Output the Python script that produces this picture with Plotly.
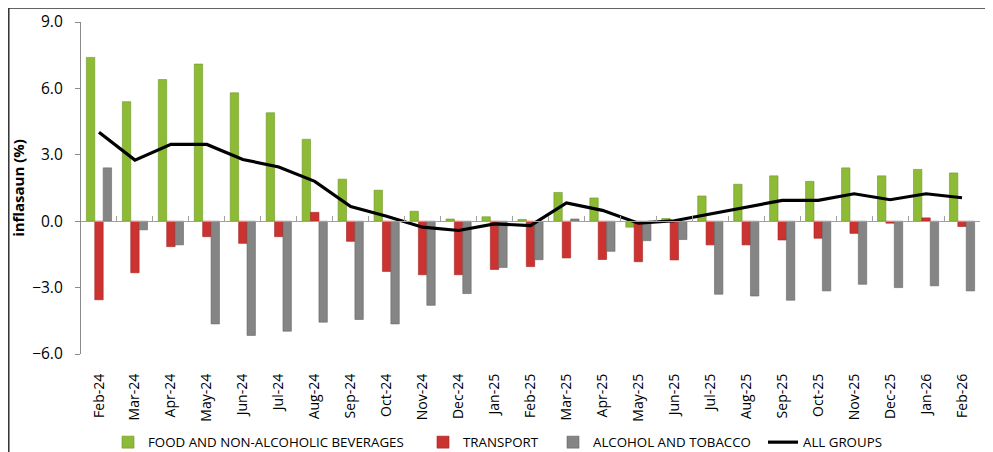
import plotly.graph_objects as go

months = ["Feb-24", "Mar-24", "Apr-24", "May-24", "Jun-24", "Jul-24", "Aug-24", "Sep-24",
          "Oct-24", "Nov-24", "Dec-24", "Jan-25", "Feb-25", "Mar-25", "Apr-25", "May-25",
          "Jun-25", "Jul-25", "Aug-25", "Sep-25", "Oct-25", "Nov-25", "Dec-25", "Jan-26", "Feb-26"]

food = [7.4, 5.4, 6.4, 7.1, 5.8, 4.9, 3.7, 1.9, 1.4, 0.45, 0.1, 0.2, 0.08, 1.3, 1.05, -0.27,
        0.12, 1.14, 1.67, 2.05, 1.8, 2.41, 2.05, 2.34, 2.18]
transport = [-3.55, -2.33, -1.15, -0.7, -1.0, -0.7, 0.4, -0.91, -2.27, -2.42, -2.42, -2.18, -2.05,
             -1.66, -1.73, -1.83, -1.75, -1.07, -1.07, -0.85, -0.77, -0.55, -0.09, 0.15, -0.24]
alcohol = [2.41, -0.39, -1.07, -4.64, -5.16, -4.97, -4.56, -4.44, -4.64, -3.8, -3.27, -2.09, -1.74,
           0.1, -1.36, -0.88, -0.83, -3.3, -3.38, -3.57, -3.15, -2.85, -3.0, -2.92, -3.15]
all_groups = [4.02, 2.76, 3.47, 3.47, 2.79, 2.45, 1.8, 0.66, 0.22, -0.27, -0.42, -0.12, -0.2,
              0.83, 0.49, -0.09, 0.02, 0.33, 0.64, 0.94, 0.94, 1.24, 0.97, 1.24, 1.06]

y_ticks = [-6.0, -3.0, 0.0, 3.0, 6.0, 9.0]

FONT = "Open Sans"
OFF = 8  # page body margin
W, H = 993 - OFF, 452 - OFF
L, R, T, B = 81 - OFF, 980 - OFF, 22 - OFF, 354 - OFF
PW, PH = R - L, B - T


def px_x(p):
    return (p - OFF - L) / PW


def px_y(p):
    return (B - (p - OFF)) / PH


fig = go.Figure()
fig.add_trace(go.Bar(x=months, y=food, name="FOOD AND NON-ALCOHOLIC BEVERAGES", legend="legend",
                     marker=dict(color="#8DBB36", line=dict(color="#6E9628", width=0.6))))
fig.add_trace(go.Bar(x=months, y=transport, name="TRANSPORT", legend="legend2",
                     marker=dict(color="#CC3330", line=dict(color="#A02422", width=0.6))))
fig.add_trace(go.Bar(x=months, y=alcohol, name="ALCOHOL AND TOBACCO", legend="legend3",
                     marker=dict(color="#858585", line=dict(color="#666666", width=0.6))))
fig.add_trace(go.Scatter(x=months, y=all_groups, name="ALL GROUPS", mode="lines", legend="legend4",
                         xaxis="x2", line=dict(color="black", width=3.2)))

leg_common = dict(orientation="h", yanchor="bottom", y=px_y(458), xanchor="left",
                  font=dict(size=13.3, family=FONT), bgcolor="rgba(0,0,0,0)",
                  itemwidth=30, tracegroupgap=0)

fig.update_layout(
    width=W, height=H,
    paper_bgcolor="white", plot_bgcolor="white",
    margin=dict(l=L, r=W - R, t=T, b=H - B, autoexpand=False),
    barmode="group", bargap=0.3, bargroupgap=0.0,
    font=dict(family=FONT, color="black"),
    showlegend=True,
    legend=dict(x=px_x(108), **leg_common),
    legend2=dict(x=px_x(423), **leg_common),
    legend3=dict(x=px_x(553), **leg_common),
    legend4=dict(x=px_x(763), **leg_common),
    xaxis=dict(type="category", categoryorder="array", categoryarray=months, automargin=False,
               showline=False, showgrid=False, zeroline=False, ticks="",
               tickangle=-90, tickfont=dict(size=14), ticklabelstandoff=16),
    xaxis2=dict(type="category", matches="x", overlaying="x", anchor="free", position=0.4,
                side="bottom", showline=True, linecolor="#A0A0A0", linewidth=1.2,
                ticks="inside", tickson="boundaries", ticklen=5, tickcolor="#A0A0A0",
                showticklabels=False, showgrid=False, zeroline=False),
    yaxis=dict(range=[-6, 9], tickvals=y_ticks, tickformat=".1f", automargin=False,
               showline=True, linecolor="#8A8A8A", linewidth=1.2, ticks="outside",
               ticklen=5, tickcolor="#8A8A8A", showgrid=False, zeroline=False,
               tickfont=dict(size=15.5), ticklabelstandoff=9,
               title=dict(text="<b>inflasaun (%)</b>", font=dict(size=15), standoff=6)),
    shapes=[dict(type="rect", xref="paper", yref="paper",
                 x0=px_x(8.8), x1=px_x(988), y0=px_y(470), y1=px_y(8),
                 line=dict(color="#303030", width=1.5), fillcolor="rgba(0,0,0,0)",
                 layer="below")],
)

fig.write_html("out.html")
